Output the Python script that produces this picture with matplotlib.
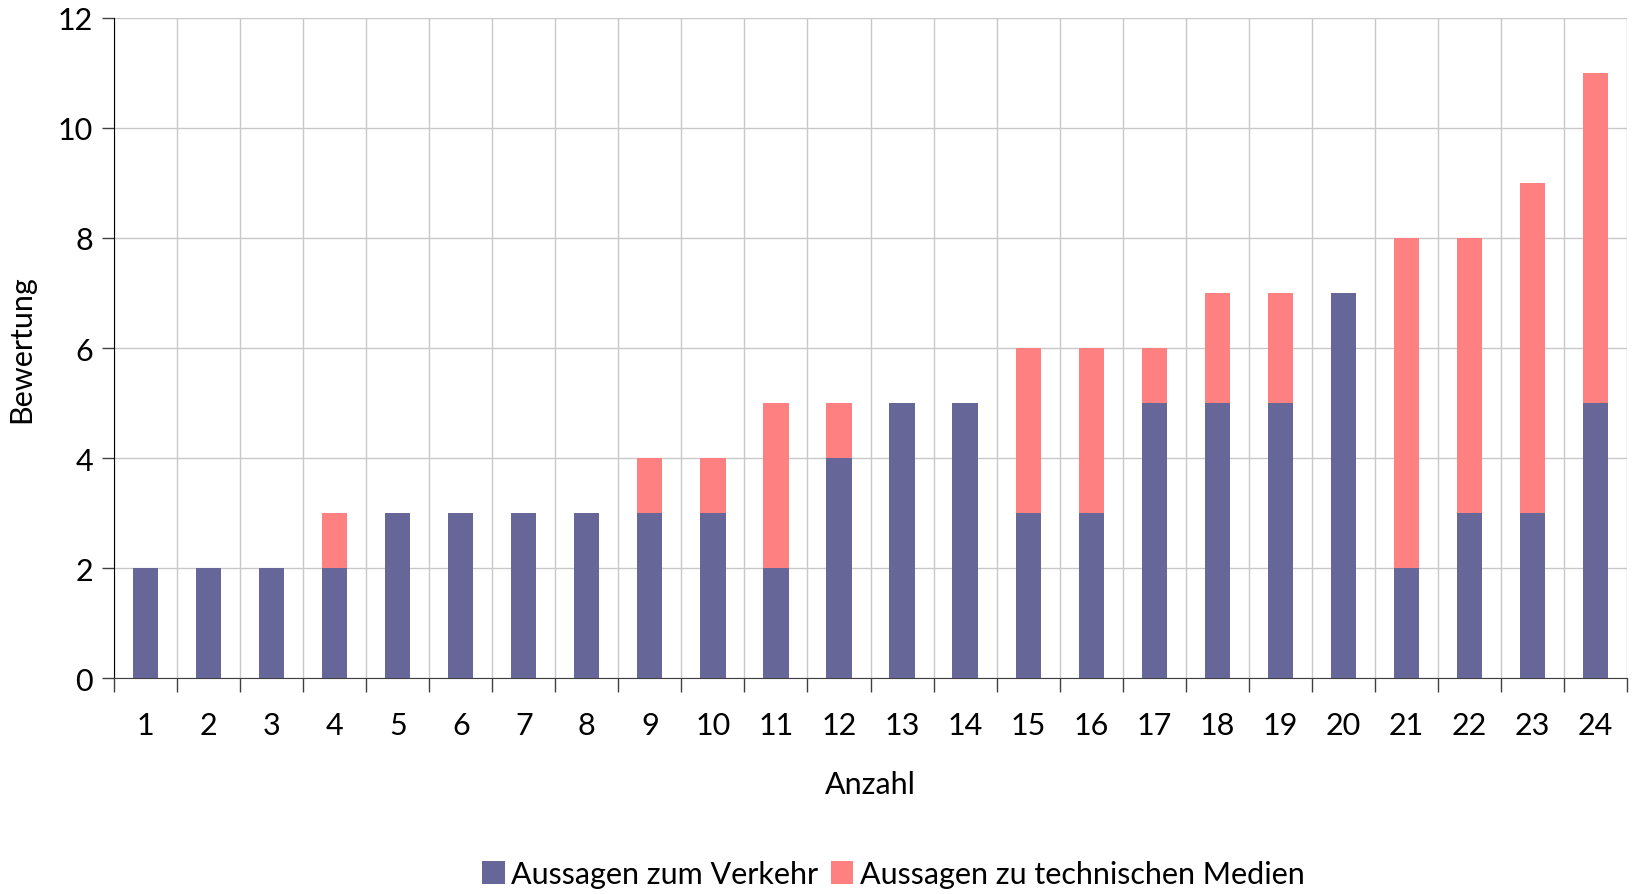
import matplotlib
matplotlib.use("Agg")
import matplotlib.pyplot as plt
import numpy as np
from matplotlib.ticker import FixedLocator

# Daten
kategorien = [str(i) for i in range(1, 25)]
verkehr = [2, 2, 2, 2, 3, 3, 3, 3, 3, 3, 2, 4, 5, 5, 3, 3, 5, 5, 5, 7, 2, 3, 3, 5]
medien = [0, 0, 0, 1, 0, 0, 0, 0, 1, 1, 3, 1, 0, 0, 3, 3, 1, 2, 2, 0, 6, 5, 6, 6]
y_ticks = [0, 2, 4, 6, 8, 10, 12]

def main():
    plt.rcParams['font.family'] = ['Lato', 'DejaVu Sans']
    fig = plt.figure(figsize=(16.36, 8.95), dpi=100)
    ax = fig.add_axes([0.0697, 0.2413, 0.9248, 0.7375])

    x = np.arange(len(kategorien))
    ax.bar(x, verkehr, width=0.4, color='#666699', label='Aussagen zum Verkehr', zorder=3)
    ax.bar(x, medien, width=0.4, bottom=verkehr, color='#FF8080',
           label='Aussagen zu technischen Medien', zorder=3)

    ax.set_xlim(-0.5, len(kategorien) - 0.5)
    ax.set_ylim(0, 12)
    ax.set_xticks(x)
    ax.set_xticklabels(kategorien)
    ax.xaxis.set_minor_locator(FixedLocator(np.arange(-0.5, len(kategorien), 1)))
    ax.set_yticks(y_ticks)

    ax.tick_params(axis='x', which='major', length=0, pad=24, labelsize=22)
    ax.tick_params(axis='x', which='minor', length=10, width=1, color='#404040')
    ax.tick_params(axis='y', length=9, width=1, color='#404040', labelsize=22, pad=6)

    ax.grid(True, which='minor', axis='x', color='#c8c8c8', linewidth=1, zorder=0)
    ax.grid(True, which='major', axis='y', color='#c8c8c8', linewidth=1, zorder=0)

    for s in ['top', 'right']:
        ax.spines[s].set_visible(False)
    ax.spines['left'].set_color('black')
    ax.spines['bottom'].set_color('#404040')

    ax.set_xlabel('Anzahl', fontsize=22, labelpad=22)
    ax.set_ylabel('Bewertung', fontsize=22, labelpad=16)

    fig.legend(loc='center', bbox_to_anchor=(0.546, 0.022), ncol=2, frameon=False,
               fontsize=22, handlelength=0.75, handleheight=0.75,
               handletextpad=0.2, columnspacing=0.4)

    fig.savefig('out.png', dpi=100)

if __name__ == "__main__":
    main()
